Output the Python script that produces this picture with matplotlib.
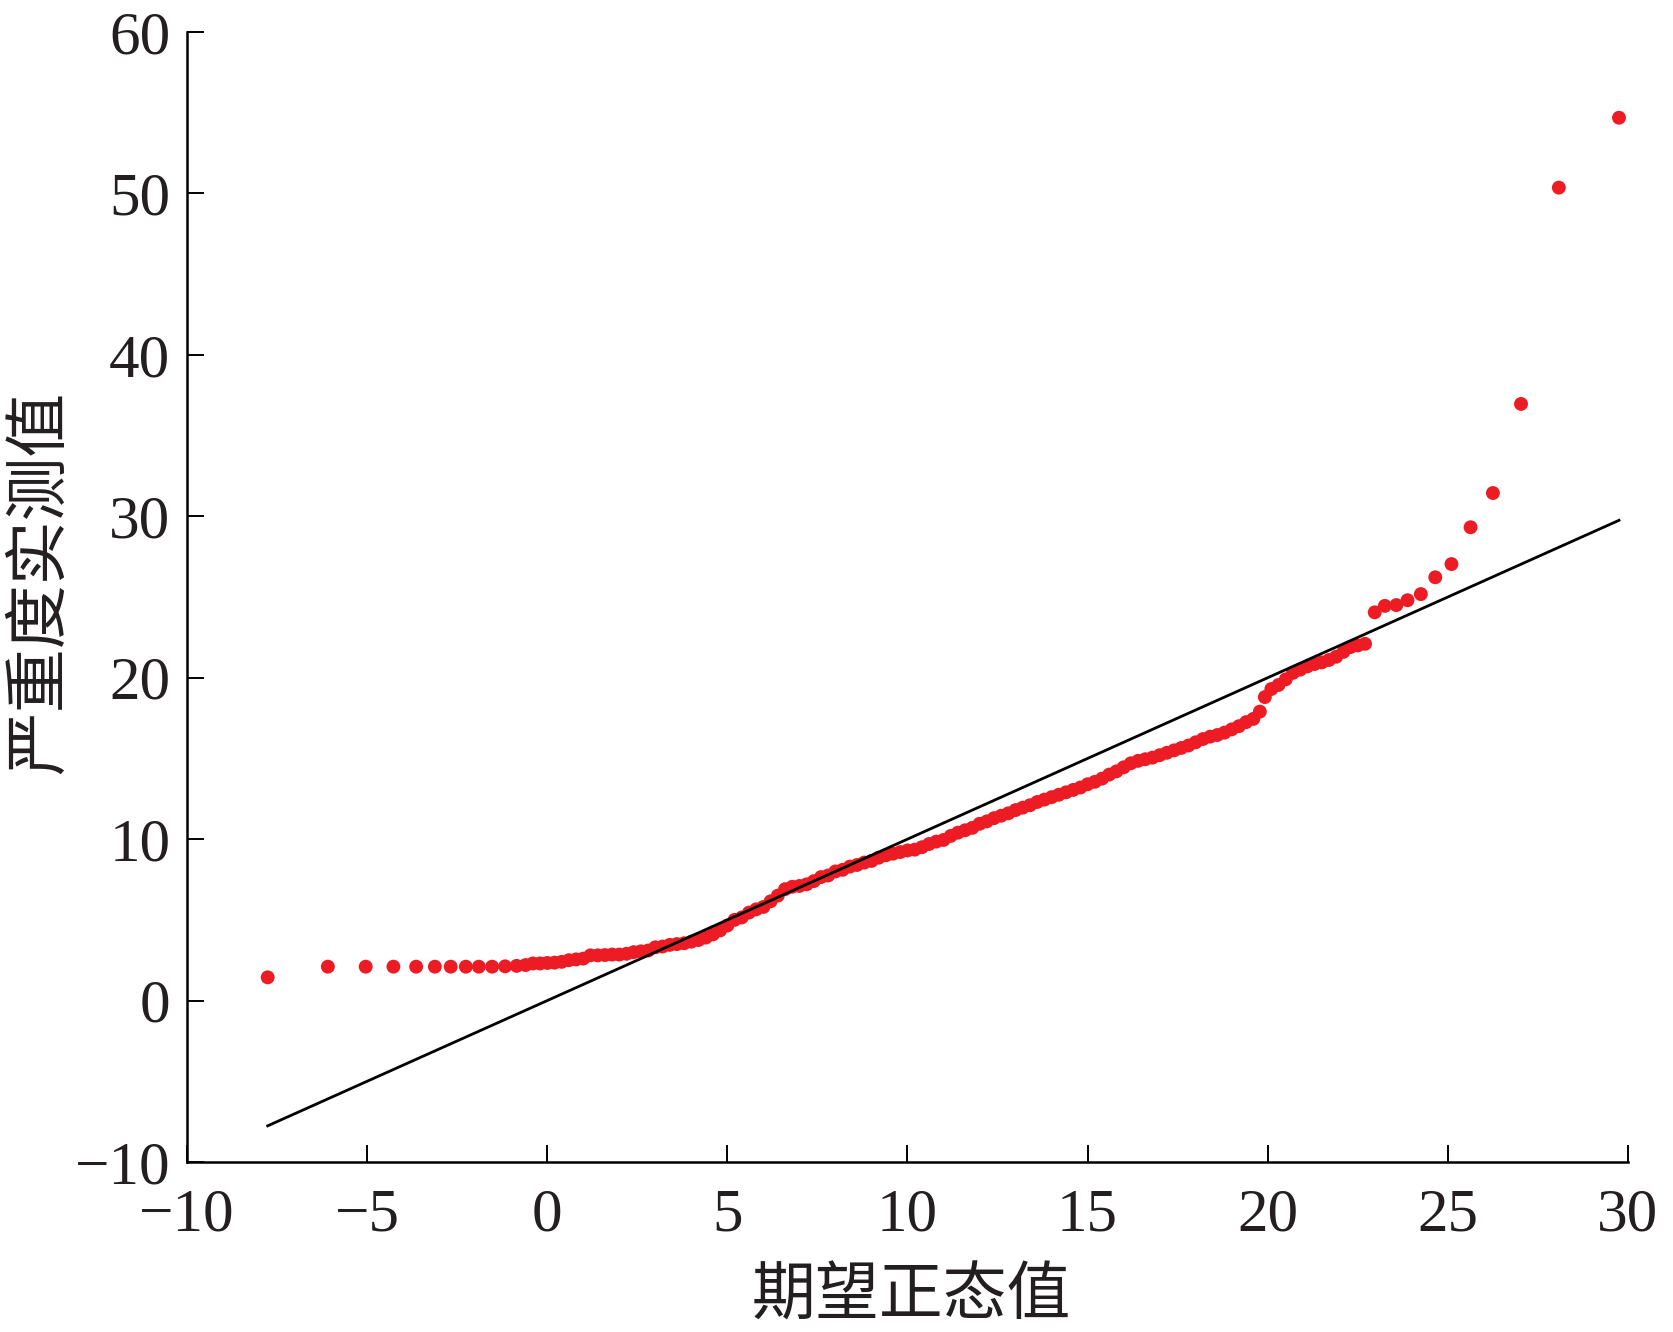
import matplotlib
matplotlib.use("Agg")
import matplotlib.pyplot as plt

x_low = [-7.76, -6.09, -5.04, -4.27, -3.64, -3.12, -2.68, -2.26, -1.90, -1.53, -1.17, -0.85]
y_low = [1.44, 2.10, 2.10, 2.10, 2.10, 2.10, 2.10, 2.10, 2.10, 2.10, 2.12, 2.15]

x_mid = [-0.6, -0.4, -0.2, 0.0, 0.2, 0.4, 0.6, 0.8, 1.0, 1.2, 1.4, 1.6, 1.8, 2.0, 2.2,
         2.4, 2.6, 2.8, 3.0, 3.2, 3.4, 3.6, 3.8, 4.0, 4.2, 4.4, 4.6, 4.8, 5.0, 5.2,
         5.4, 5.6, 5.8, 6.0, 6.2, 6.4, 6.6, 6.8, 7.0, 7.2, 7.4, 7.6, 7.8, 8.0, 8.2,
         8.4, 8.6, 8.8, 9.0, 9.2, 9.4, 9.6, 9.8, 10.0, 10.2, 10.4, 10.6, 10.8, 11.0, 11.2,
         11.4, 11.6, 11.8, 12.0, 12.2, 12.4, 12.6, 12.8, 13.0, 13.2, 13.4, 13.6, 13.8, 14.0, 14.2,
         14.4, 14.6, 14.8, 15.0, 15.2, 15.4, 15.6, 15.8, 16.0, 16.2, 16.4, 16.6, 16.8, 17.0, 17.2,
         17.4, 17.6, 17.8, 18.0, 18.2, 18.4, 18.6, 18.8, 19.0, 19.2, 19.4, 19.6, 19.78, 19.92, 20.1,
         20.3, 20.5, 20.7, 20.9, 21.1, 21.3, 21.5, 21.7, 21.9, 22.1, 22.3, 22.5, 22.7]
y_mid = [2.20, 2.30, 2.30, 2.33, 2.35, 2.40, 2.50, 2.55, 2.60, 2.80, 2.80, 2.82, 2.85, 2.85, 2.90,
         3.00, 3.05, 3.10, 3.30, 3.35, 3.45, 3.50, 3.55, 3.65, 3.75, 3.90, 4.10, 4.35, 4.65, 5.00,
         5.15, 5.45, 5.65, 5.80, 6.15, 6.50, 6.90, 7.05, 7.10, 7.20, 7.40, 7.65, 7.75, 8.00, 8.10,
         8.30, 8.40, 8.55, 8.65, 8.85, 9.00, 9.10, 9.20, 9.30, 9.35, 9.50, 9.70, 9.85, 9.95, 10.20,
         10.40, 10.55, 10.70, 10.95, 11.10, 11.30, 11.45, 11.60, 11.80, 11.95, 12.10, 12.30, 12.45, 12.60, 12.75,
         12.90, 13.05, 13.20, 13.40, 13.55, 13.75, 14.00, 14.20, 14.45, 14.70, 14.85, 14.95, 15.05, 15.20, 15.35,
         15.50, 15.65, 15.80, 16.00, 16.20, 16.35, 16.45, 16.60, 16.80, 17.00, 17.25, 17.45, 17.90, 18.80, 19.30,
         19.55, 19.90, 20.30, 20.50, 20.70, 20.85, 20.95, 21.10, 21.30, 21.60, 21.90, 22.00, 22.10]

x_high = [22.97, 23.25, 23.57, 23.88, 24.25, 24.65, 25.10, 25.63, 26.25, 27.03, 28.08, 29.75]
y_high = [24.05, 24.45, 24.50, 24.80, 25.18, 26.22, 27.04, 29.32, 31.44, 36.96, 50.36, 54.69]

line_x = [-7.76, 29.75]
line_y = [-7.76, 29.75]

x_ticks = [-10, -5, 0, 5, 10, 15, 20, 25, 30]
y_ticks = [-10, 0, 10, 20, 30, 40, 50, 60]
x_label = "期望正态值"
y_label = "严重度实测值"

# ---- figure ----
plt.rcParams['font.family'] = ['Liberation Serif', 'DejaVu Serif']
fig = plt.figure(figsize=(16.74, 13.32), dpi=100)
ax = fig.add_axes([187/1674, 1 - 1162/1332, (1628-187)/1674, (1162-32)/1332])

xs = x_low + x_mid + x_high
ys = y_low + y_mid + y_high
ax.scatter(xs, ys, s=100, color='#ED1C24', edgecolors='none', zorder=2)
ax.plot(line_x, line_y, color='black', lw=2.0, zorder=3)

ax.set_xlim(-10, 30)
ax.set_ylim(-10, 60)
ax.set_xticks(x_ticks)
ax.set_yticks(y_ticks)
ax.set_xticklabels([("\u2212%d" % -t) if t < 0 else str(t) for t in x_ticks])
ax.set_yticklabels([("\u2212%d" % -t) if t < 0 else str(t) for t in y_ticks])

for s in ['top', 'right']:
    ax.spines[s].set_visible(False)
for s in ['left', 'bottom']:
    ax.spines[s].set_linewidth(1.8)
    ax.spines[s].set_color('black')

ax.tick_params(direction='in', length=12, width=1.4, labelsize=44, colors='black')
ax.tick_params(axis='x', pad=19)
ax.tick_params(axis='y', pad=12)
for lab in ax.get_xticklabels() + ax.get_yticklabels():
    lab.set_color('#231F20')

cjk = ['Noto Sans CJK SC', 'DejaVu Sans']
ax.set_xlabel(x_label, fontsize=46, family=cjk, color='#231F20')
ax.set_ylabel(y_label, fontsize=46, family=cjk, color='#231F20')
ax.xaxis.label.set_va('center')
ax.yaxis.label.set_va('center')
ax.xaxis.set_label_coords((911-187)/1441, (1162-1296)/1130)
ax.yaxis.set_label_coords((40-187)/1441, (1162-582)/1130)

fig.savefig('out.png', dpi=100, facecolor='white')
